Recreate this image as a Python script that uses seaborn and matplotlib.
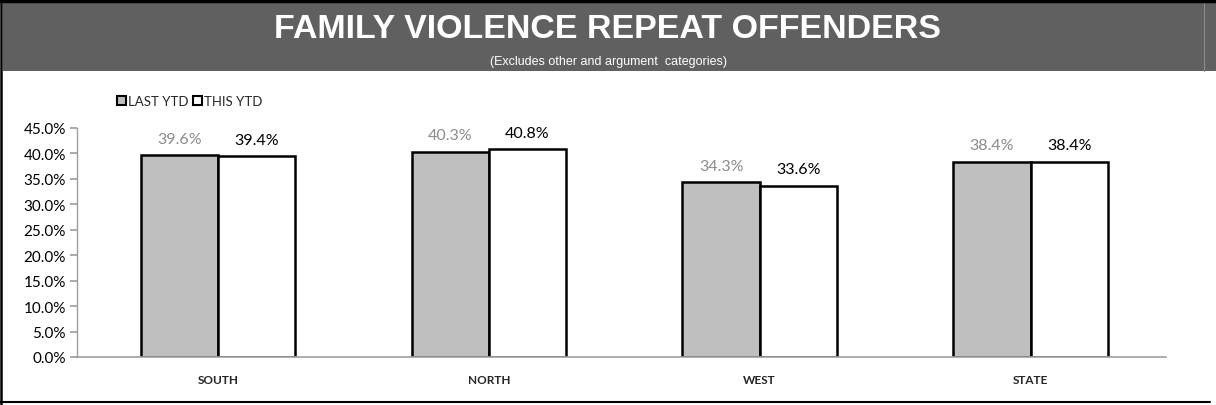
import matplotlib
matplotlib.use("Agg")
import matplotlib.pyplot as plt
import seaborn as sns
import pandas as pd
from matplotlib.patches import Rectangle
from matplotlib.lines import Line2D
from matplotlib.ticker import PercentFormatter

categories = ["SOUTH", "NORTH", "WEST", "STATE"]
series_names = ["LAST YTD", "THIS YTD"]
last_ytd = [0.396, 0.403, 0.343, 0.384]
this_ytd = [0.394, 0.408, 0.336, 0.384]
y_ticks = [0.0, 0.05, 0.10, 0.15, 0.20, 0.25, 0.30, 0.35, 0.40, 0.45]

df = pd.DataFrame({
    "region": categories * 2,
    "period": [series_names[0]] * len(categories) + [series_names[1]] * len(categories),
    "value": last_ytd + this_ytd,
})

sns.set_theme(style="white")
plt.rcParams['font.family'] = ['Lato', 'DejaVu Sans']

W, H = 1216, 406
fig = plt.figure(figsize=(W / 100, H / 100), dpi=100)
fig.patch.set_facecolor("white")

# header band and frame
fig.patches.append(Rectangle((3 / W, 1 - 72 / H), 1 - 3 / W, 69 / H, transform=fig.transFigure,
                             facecolor="#606060", edgecolor="none", zorder=0))
fig.lines.append(Line2D([1204 / W, 1204 / W], [1 - 72 / H, 1 - 3 / H], transform=fig.transFigure,
                        color="#8a8a8a", lw=0.8))
fig.lines.append(Line2D([0, 1], [1 - 1.5 / H, 1 - 1.5 / H], transform=fig.transFigure, color="black", lw=2.5))
fig.lines.append(Line2D([1.2 / W, 1.2 / W], [0, 1], transform=fig.transFigure, color="black", lw=1.8))
fig.lines.append(Line2D([0, 1210 / W], [1 - 403 / H, 1 - 403 / H], transform=fig.transFigure, color="black", lw=1.5))

fig.text(608 / W, 1 - 29 / H, "FAMILY VIOLENCE REPEAT OFFENDERS", ha="center", va="center",
         color="white", fontsize=24.5, fontweight="bold", family=["Liberation Sans", "DejaVu Sans"])
fig.text(608 / W, 1 - 62.5 / H, "(Excludes other and argument  categories)", ha="center", va="center",
         color="white", fontsize=9, family=["Liberation Sans", "DejaVu Sans"])

ax = fig.add_axes([77 / W, 1 - 358 / H, (1166 - 77) / W, (358 - 129) / H])
sns.barplot(data=df, x="region", y="value", hue="period", order=categories, hue_order=series_names,
            palette=["#bfbfbf", "#ffffff"], width=0.57, gap=0, edgecolor="black", linewidth=1.8,
            saturation=1, ax=ax, legend=False)

ax.set_ylim(0, 0.45)
ax.set_xlim(-0.52, 3.5)
ax.set_yticks(y_ticks)
ax.yaxis.set_major_formatter(PercentFormatter(1.0, decimals=1))
ax.set_xlabel("")
ax.set_ylabel("")
for s in ["top", "right"]:
    ax.spines[s].set_visible(False)
ax.spines["left"].set_color("#a0a0a0")
ax.spines["bottom"].set_color("#a0a0a0")
ax.spines["left"].set_linewidth(1)
ax.spines["bottom"].set_linewidth(1.2)
ax.tick_params(axis="y", left=True, length=5, color="#a0a0a0", labelsize=11, labelcolor="black", pad=3)
ax.tick_params(axis="x", bottom=False, labelsize=8.5, pad=6)
for lab in ax.get_xticklabels():
    lab.set_fontweight("bold")
ax.patch.set_alpha(0)

label_colors = ["#8c8c8c", "black"]
for cont, col in zip(ax.containers, label_colors):
    ax.bar_label(cont, labels=[f"{v * 100:.1f}%" for v in cont.datavalues], padding=7,
                 color=col, fontsize=11.5)

handles = [Rectangle((0, 0), 1, 1, facecolor="#bfbfbf", edgecolor="black", lw=1.5),
           Rectangle((0, 0), 1, 1, facecolor="white", edgecolor="black", lw=1.5)]
fig.legend(handles, series_names, loc="upper left", bbox_to_anchor=(117 / W, 1 - 96 / H),
           ncol=2, frameon=False, fontsize=9.5, handlelength=0.7, handleheight=0.7,
           handletextpad=0.15, columnspacing=0.3, borderpad=0, borderaxespad=0)

fig.savefig("out.png", dpi=100, facecolor="white")
